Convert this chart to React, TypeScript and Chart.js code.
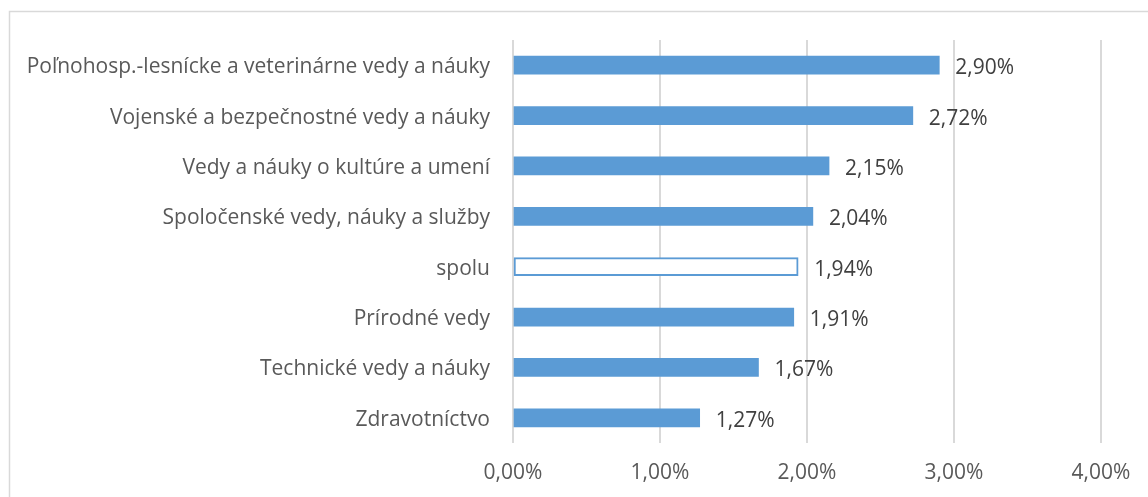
import React, { useEffect, useRef } from "react";
import { Chart, registerables } from "chart.js";

Chart.register(...registerables);

const categories = [
  "Poľnohosp.-lesnícke a veterinárne vedy a náuky",
  "Vojenské a bezpečnostné vedy a náuky",
  "Vedy a náuky o kultúre a umení",
  "Spoločenské vedy, náuky a služby",
  "spolu",
  "Prírodné vedy",
  "Technické vedy a náuky",
  "Zdravotníctvo",
];
const values = [2.9, 2.72, 2.15, 2.04, 1.94, 1.91, 1.67, 1.27];
const xTicks = [0, 1, 2, 3, 4];

const BLUE = "#5B9BD5";
const FONT = "'Open Sans', sans-serif";
const FS = 21;

const fmt = (v: number) => v.toFixed(2).replace(".", ",") + "%";

const framePlugin = {
  id: "frame",
  beforeDraw(chart: any) {
    const ctx = chart.ctx;
    ctx.save();
    ctx.fillStyle = "#ffffff";
    ctx.fillRect(0, 0, chart.width, chart.height);
    ctx.strokeStyle = "#d9d9d9";
    ctx.lineWidth = 1.5;
    ctx.beginPath();
    ctx.moveTo(9.5, chart.height);
    ctx.lineTo(9.5, 11.5);
    ctx.lineTo(chart.width, 11.5);
    ctx.stroke();
    ctx.restore();
  },
};

const labelPlugin = {
  id: "valueLabels",
  afterDatasetsDraw(chart: any) {
    const ctx = chart.ctx;
    const meta = chart.getDatasetMeta(0);
    ctx.save();
    ctx.font = `${FS}px ${FONT}`;
    ctx.fillStyle = "#404040";
    ctx.textAlign = "left";
    ctx.textBaseline = "middle";
    meta.data.forEach((bar: any, i: number) => {
      ctx.fillText(fmt(values[i]), bar.x + 16, bar.y + 3);
    });
    ctx.restore();
  },
};

export default function App() {
  const ref = useRef<HTMLCanvasElement>(null);
  useEffect(() => {
    if (!ref.current) return;
    const chart = new Chart(ref.current, {
      type: "bar",
      data: {
        labels: categories,
        datasets: [
          {
            data: values,
            backgroundColor: categories.map((c) => (c === "spolu" ? "#ffffff" : BLUE)),
            borderColor: BLUE,
            borderWidth: categories.map((c) => (c === "spolu" ? 2 : 0)),
            barThickness: 18,
            borderSkipped: false,
          },
        ],
      },
      options: {
        indexAxis: "y",
        responsive: false,
        animation: false,
        layout: { padding: { top: 40, right: 47, left: 0, bottom: 0 } },
        plugins: { legend: { display: false }, tooltip: { enabled: false } },
        scales: {
          x: {
            min: 0,
            max: 4,
            afterBuildTicks(axis: any) {
              axis.ticks = xTicks.map((v) => ({ value: v }));
            },
            afterFit(axis: any) {
              axis.height = 54;
            },
            grid: { color: "#d9d9d9", lineWidth: 2, drawTicks: false },
            border: { display: false },
            ticks: {
              padding: 17,
              color: "#595959",
              font: { family: FONT, size: FS },
              callback: (v: any) => fmt(Number(v)),
            },
          },
          y: {
            afterFit(axis: any) {
              axis.width = 513;
            },
            grid: { display: false, drawTicks: false },
            border: { display: false },
            ticks: {
              padding: 23,
              labelOffset: 2,
              color: "#595959",
              font: { family: FONT, size: FS },
            },
          },
        },
      },
      plugins: [framePlugin, labelPlugin],
    });
    return () => chart.destroy();
  }, []);
  return (
    <div style={{ position: "fixed", left: 0, top: 0, width: 1148, height: 497 }}>
      <canvas ref={ref} width={1148} height={497} />
    </div>
  );
}
